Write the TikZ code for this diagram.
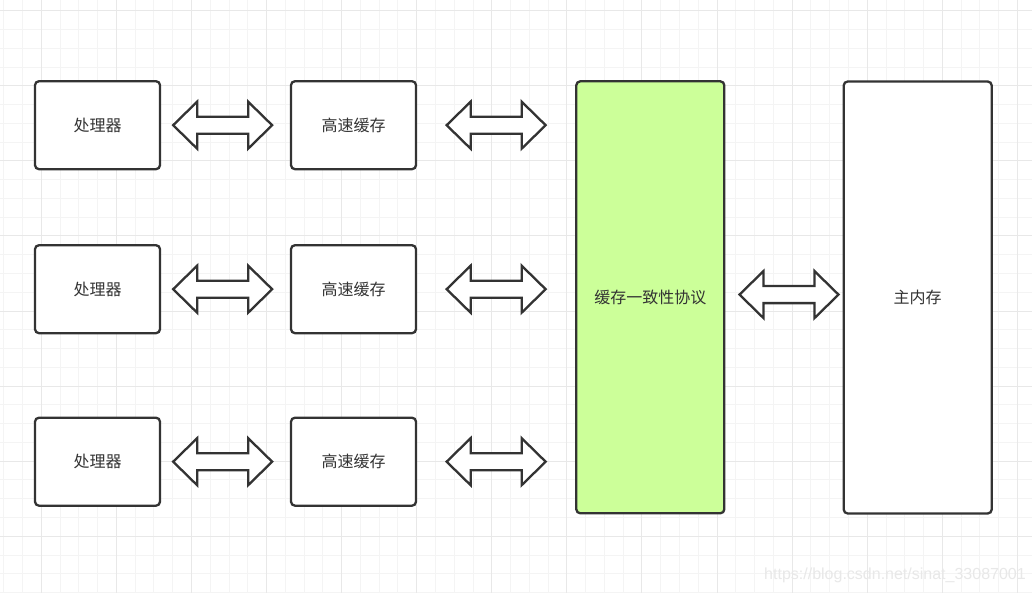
\documentclass[tikz,border=0pt]{standalone}
\usepackage{fontspec}
\setmainfont{Noto Sans CJK SC}
\newfontfamily\urlfont{Liberation Sans}
\usetikzlibrary{calc}
\definecolor{edgegray}{HTML}{333333}
\definecolor{mesigreen}{HTML}{CCFF99}
\definecolor{gridminor}{HTML}{F4F4F4}
\definecolor{gridmajor}{HTML}{E8E8E8}
\tikzset{
  box/.style={draw=edgegray,line width=2.3pt,rounded corners=4pt,fill=white,
    text=edgegray,minimum width=125pt,minimum height=88pt,inner sep=0pt,
    font=\fontsize{16}{18}\selectfont},
  tallbox/.style={box,minimum width=148pt,minimum height=432pt},
  dblarrow/.pic={
    \draw[draw=edgegray,line width=2.3pt,fill=white,line join=miter]
      (-49.5,0) -- (-25.5,-23.5) -- (-25.5,-8.5) -- (25.5,-8.5) -- (25.5,-23.5)
      -- (49.5,0) -- (25.5,23.5) -- (25.5,8.5) -- (-25.5,8.5) -- (-25.5,23.5) -- cycle;
  }
}
\begin{document}
\begin{tikzpicture}[x=1pt,y=-1pt]
  \useasboundingbox (0,0) rectangle (1032,593);
  \fill[white] (0,0) rectangle (1032,593);

  \foreach \k in {0,...,54} {
    \draw[gridminor,line width=1pt] ({3.8+18.77*\k},0) -- ({3.8+18.77*\k},593);
  }
  \foreach \k in {0,...,31} {
    \draw[gridminor,line width=1pt] (0,{10.7+18.77*\k}) -- (1032,{10.7+18.77*\k});
  }
  \foreach \k in {0,...,13} {
    \draw[gridmajor,line width=1pt] ({41.3+75.08*\k},0) -- ({41.3+75.08*\k},593);
  }
  \foreach \k in {0,...,7} {
    \draw[gridmajor,line width=1pt] (0,{10.7+75.08*\k}) -- (1032,{10.7+75.08*\k});
  }

  \node[tallbox,fill=mesigreen] (mesi) at (650.3,297.3) {缓存一致性协议};
  \node[tallbox] (mem) at (917.7,297.5) {主内存};

  \foreach \r/\yy in {1/125.2,2/289.2,3/461.7} {
    \node[box] (cpu\r) at (97.5,\yy) {处理器};
    \node[box] (cache\r) at (353.5,\yy) {高速缓存};
    \pic at ($(cpu\r.east)+(61.5,0)$) {dblarrow};
    \pic at ($(cache\r.east)+(79,0)$) {dblarrow};
  }
  \pic at ($(mesi.east)!0.5!(mem.west)+(5,-2.8)$) {dblarrow};

  \node[text=gray!18,font=\urlfont\fontsize{16}{18}\selectfont] (wm) at (895,575) {https://blog.csdn.net/sinat\_33087001};
\end{tikzpicture}
\end{document}
